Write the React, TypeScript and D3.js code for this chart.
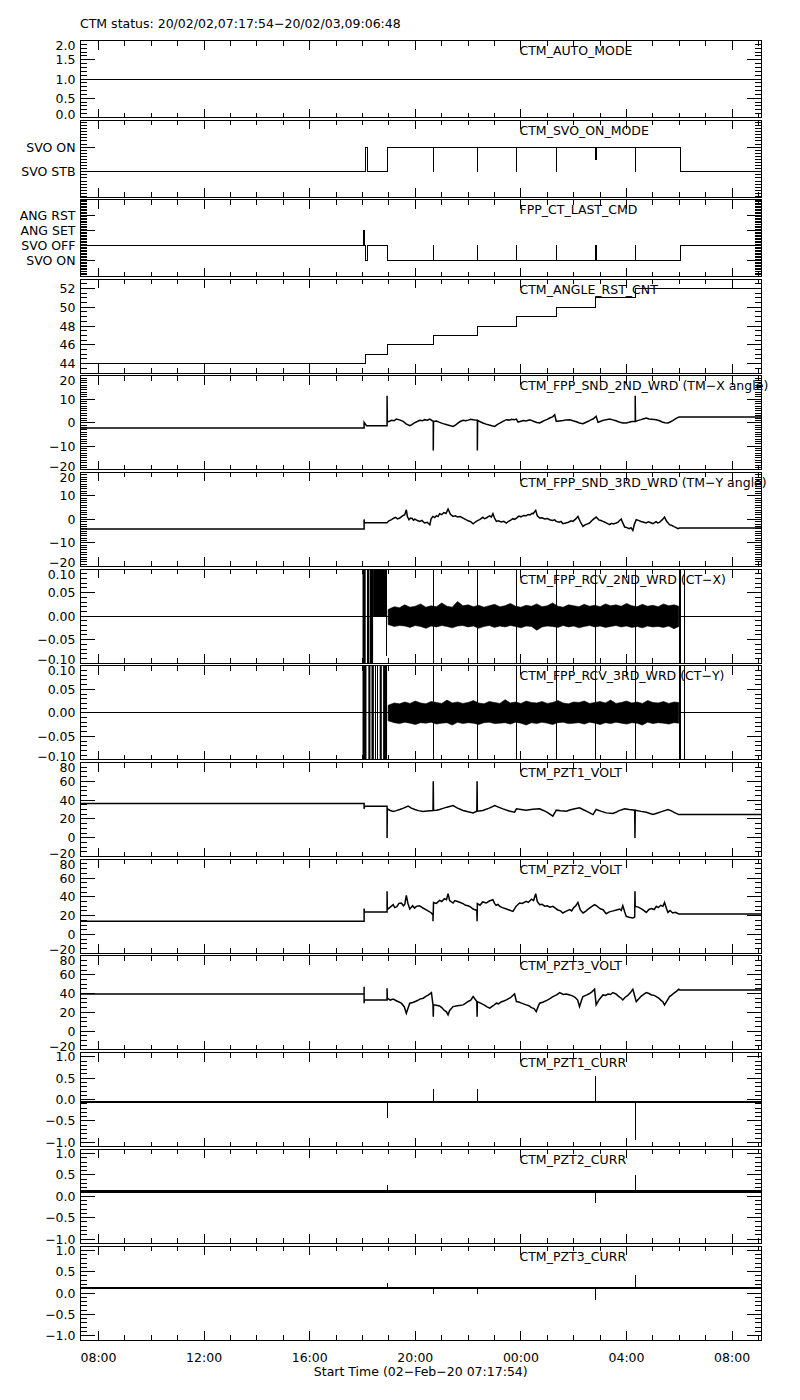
import React from "react";
import * as d3 from "d3";

type Pt = [number, number];
type Burst = [number, number, number, number]; // t0, t1, hi, lo
type Spike = [number, number, number]; // t, lo, hi

// ---------- time axis (hours since 2020-02-02 00:00) ----------
const T0 = 7 + 17 / 60 + 54 / 3600; // 07:17:54
const T1 = 33 + 6 / 60 + 48 / 3600; // next day 09:06:48

const TITLE = "CTM status: 20/02/02,07:17:54\u221220/02/03,09:06:48";
const X_TITLE = "Start Time (02\u2212Feb\u221220 07:17:54)";
const xTickHours = [8, 12, 16, 20, 24, 28, 32];
const xTickLabels = ["08:00", "12:00", "16:00", "20:00", "00:00", "04:00", "08:00"];

// ---------- panels ----------
const panelNames = [
  "CTM_AUTO_MODE",
  "CTM_SVO_ON_MODE",
  "FPP_CT_LAST_CMD",
  "CTM_ANGLE_RST_CNT",
  "CTM_FPP_SND_2ND_WRD (TM\u2212X angle)",
  "CTM_FPP_SND_3RD_WRD (TM\u2212Y angle)",
  "CTM_FPP_RCV_2ND_WRD (CT\u2212X)",
  "CTM_FPP_RCV_3RD_WRD (CT\u2212Y)",
  "CTM_PZT1_VOLT",
  "CTM_PZT2_VOLT",
  "CTM_PZT3_VOLT",
  "CTM_PZT1_CURR",
  "CTM_PZT2_CURR",
  "CTM_PZT3_CURR",
];

const panelDomains: [number, number][] = [
  [0, 2],
  [-1.02, 2.1],
  [-1.03, 4.05],
  [43, 53],
  [-20, 20],
  [-20, 20],
  [-0.1, 0.1],
  [-0.1, 0.1],
  [-20, 80],
  [-20, 80],
  [-20, 80],
  [-1.1, 1.1],
  [-1.1, 1.1],
  [-1.1, 1.1],
];

const panelTickValues: number[][] = [
  [2, 1.5, 1, 0.5, 0],
  [1, 0],
  [3, 2, 1, 0],
  [52, 50, 48, 46, 44],
  [20, 10, 0, -10, -20],
  [20, 10, 0, -10, -20],
  [0.1, 0.05, 0, -0.05, -0.1],
  [0.1, 0.05, 0, -0.05, -0.1],
  [80, 60, 40, 20, 0, -20],
  [80, 60, 40, 20, 0, -20],
  [80, 60, 40, 20, 0, -20],
  [1, 0.5, 0, -0.5, -1],
  [1, 0.5, 0, -0.5, -1],
  [1, 0.5, 0, -0.5, -1],
];

const panelTickLabels: string[][] = [
  ["2.0", "1.5", "1.0", "0.5", "0.0"],
  ["SVO ON", "SVO STB"],
  ["ANG RST", "ANG SET", "SVO OFF", "SVO ON"],
  ["52", "50", "48", "46", "44"],
  ["20", "10", "0", "\u221210", "\u221220"],
  ["20", "10", "0", "\u221210", "\u221220"],
  ["0.10", "0.05", "0.00", "\u22120.05", "\u22120.10"],
  ["0.10", "0.05", "0.00", "\u22120.05", "\u22120.10"],
  ["80", "60", "40", "20", "0", "\u221220"],
  ["80", "60", "40", "20", "0", "\u221220"],
  ["80", "60", "40", "20", "0", "\u221220"],
  ["1.0", "0.5", "0.0", "\u22120.5", "\u22121.0"],
  ["1.0", "0.5", "0.0", "\u22120.5", "\u22121.0"],
  ["1.0", "0.5", "0.0", "\u22120.5", "\u22121.0"],
];

const panelMinorSteps = [0.1, 0.125, 0.1, 0.5, 1, 1, 0.01, 0.01, 5, 5, 5, 0.1, 0.1, 0.1];

// ---------- series ----------
const autoMode: Pt[] = [[T0, 1], [T1, 1]];

const svoOnMode: Pt[] = [
  [T0, 0], [18.1, 1], [18.18, 0], [18.93, 1], [20.68, 0], [20.69, 1], [22.35, 0], [22.36, 1],
  [23.84, 0], [23.85, 1], [25.33, 0], [25.34, 1], [26.82, 0.5], [26.85, 1], [28.33, 0], [28.34, 1],
  [30.03, 0], [T1, 0],
];

const lastCmd: Pt[] = [
  [T0, 1], [18.03, 2], [18.09, 1], [18.1, 0], [18.18, 1], [18.93, 0], [20.68, 1], [20.69, 0],
  [22.35, 1], [22.36, 0], [23.84, 1], [23.85, 0], [25.33, 1], [25.34, 0], [26.82, 1], [26.85, 0],
  [28.33, 1], [28.34, 0], [30.03, 1], [T1, 1],
];

const angleRstCnt: Pt[] = [
  [T0, 44], [18.11, 45], [18.93, 46], [20.68, 47], [22.35, 48], [23.84, 49], [25.33, 50],
  [26.82, 51], [28.33, 52], [T1, 52],
];

const sndX: Pt[] = [
  [T0, -2.27], [18.06, -2.27], [18.06, 0.14], [18.15, -1.28], [18.93, -1.28], [18.93, 11.5], [18.94, 0.28],
  [19.02, 0.6], [19.1, 1.0], [19.2, 0.8], [19.28, 1.56], [19.4, 1.2], [19.47, 0.9], [19.54, 0.57],
  [19.65, -0.5], [19.79, -1.28], [19.87, -0.8], [19.95, -0.2], [20.05, 0.4], [20.17, 0.99], [20.27, 0.8],
  [20.35, 1.3], [20.45, 1.1], [20.55, 1.56], [20.68, 0.57], [20.68, -11.8], [20.69, 0.57], [20.8, 0.7],
  [20.92, 0.14], [21.05, -0.4], [21.2, -0.9], [21.3, -1.2], [21.43, -1.56], [21.52, -1.0], [21.6, -0.3],
  [21.7, 0.5], [21.81, 0.99], [21.9, 0.8], [22.0, 1.1], [22.1, 1.5], [22.19, 1.28], [22.35, 0.99],
  [22.35, -11.8], [22.36, 0.99], [22.46, 0.4], [22.56, -0.14], [22.68, -0.6], [22.8, -1.0], [22.9, -1.3],
  [23.01, -1.56], [23.1, -0.8], [23.2, -0.2], [23.32, 0.6], [23.45, 1.28], [23.55, 1.1], [23.65, 1.5],
  [23.75, 1.3], [23.83, 1.56], [23.89, 0.28], [24.0, 0.6], [24.1, 0.9], [24.2, 0.7], [24.33, 1.28],
  [24.42, 0.9], [24.5, 0.5], [24.6, 0.1], [24.71, -0.14], [24.8, 0.4], [24.9, 1.0], [25.0, 1.4],
  [25.09, 1.99], [25.2, 2.5], [25.28, 3.4], [25.34, 0.57], [25.45, 0.7], [25.6, 0.9], [25.72, 1.2],
  [25.85, 1.28], [25.97, 0.8], [26.1, 0.4], [26.22, -0.1], [26.35, -0.43], [26.45, 0.1], [26.55, 0.6],
  [26.65, 1.2], [26.73, 1.56], [26.85, 2.7], [26.92, 0.14], [27.0, 0.5], [27.1, 0.9], [27.23, 1.3],
  [27.36, 1.56], [27.48, 1.2], [27.6, 0.8], [27.72, 0.3], [27.86, -0.14], [27.98, -0.1], [28.1, 0.2],
  [28.2, 0.5], [28.33, 0.57], [28.33, 11.5], [28.34, 0.57], [28.45, 1.0], [28.55, 1.3], [28.65, 1.7],
  [28.75, 1.99], [28.85, 1.6], [28.95, 1.5], [29.05, 1.4], [29.13, 1.28], [29.25, 0.8], [29.35, 0.3],
  [29.45, 0.0], [29.57, -0.14], [29.65, 0.3], [29.75, 0.9], [29.85, 1.6], [29.95, 2.27], [30.0, 2.41],
  [T1, 2.41],
];

const sndY: Pt[] = [
  [T0, -4.1], [18.06, -4.1], [18.06, 0.0], [18.07, -1.44], [18.93, -1.44], [19.0, -0.6], [19.1, -0.13],
  [19.18, 0.5], [19.25, 0.9], [19.33, 0.2], [19.41, 0.58], [19.5, 1.4], [19.6, 1.98], [19.66, 4.1],
  [19.7, 1.2], [19.76, -0.13], [19.82, 0.6], [19.88, 0.4], [19.93, -0.3], [19.98, 0.14], [20.08, -0.5],
  [20.17, -0.84], [20.25, -0.4], [20.35, -1.5], [20.45, -1.2], [20.55, -2.26], [20.6, 0.3],
  [20.67, 1.28], [20.74, 0.8], [20.8, 1.6], [20.86, 1.2], [20.92, 2.41], [21.0, 2.0], [21.08, 2.9],
  [21.16, 2.5], [21.24, 4.4], [21.33, 2.2], [21.43, 1.28], [21.52, 1.5], [21.6, 1.0], [21.7, 1.2],
  [21.81, 0.58], [21.9, 0.0], [22.0, -0.6], [22.1, -1.0], [22.19, -1.84], [22.3, -0.9], [22.37, -0.4],
  [22.44, -0.13], [22.5, 0.4], [22.56, 0.9], [22.62, 0.3], [22.69, 0.58], [22.76, 1.2], [22.82, 1.5],
  [22.88, 1.0], [22.94, 2.41], [23.0, 0.6], [23.07, -0.84], [23.15, -0.6], [23.25, -1.1],
  [23.35, -0.8], [23.45, -1.55], [23.52, -0.9], [23.6, -0.4], [23.7, 0.3], [23.76, 0.0], [23.83, 0.58],
  [23.92, 1.4], [24.0, 1.1], [24.1, 1.7], [24.2, 1.56], [24.28, 2.1], [24.35, 1.9], [24.42, 2.6],
  [24.46, 2.41], [24.56, 3.83], [24.62, 1.5], [24.71, 0.58], [24.8, 0.7], [24.9, 0.2], [25.0, 0.4],
  [25.09, -0.13], [25.2, -0.5], [25.28, -0.2], [25.34, -0.84], [25.45, -1.2], [25.52, -0.9],
  [25.59, -1.84], [25.7, -1.5], [25.8, -1.2], [25.9, -0.6], [25.97, -0.84], [26.08, 0.2], [26.16, 1.28],
  [26.25, -1.0], [26.35, -2.97], [26.43, -2.3], [26.5, -2.0], [26.6, -1.55], [26.68, -0.6], [26.75, 0.1],
  [26.85, 1.0], [26.95, -0.2], [27.03, -0.5], [27.11, -0.84], [27.18, -1.2], [27.25, -1.6],
  [27.36, -2.26], [27.43, -1.7], [27.5, -1.9], [27.61, -1.55], [27.68, -1.2], [27.72, -0.7],
  [27.8, 0.14], [27.86, -1.5], [27.93, -3.26], [28.0, -3.4], [28.1, -3.9], [28.17, -3.5],
  [28.24, -4.68], [28.3, -2.0], [28.37, -0.13], [28.45, -0.4], [28.55, -0.9], [28.65, -1.2],
  [28.75, -1.55], [28.82, -1.0], [28.9, -1.3], [29.0, -1.84], [29.06, -1.4], [29.12, -1.0],
  [29.18, -1.5], [29.25, -1.27], [29.3, -0.7], [29.35, -0.2], [29.44, 1.0], [29.52, -0.8],
  [29.63, -2.26], [29.72, -2.6], [29.8, -3.1], [29.88, -3.5], [29.95, -3.97], [30.01, -3.7], [T1, -3.7],
];

// CT-X / CT-Y noise band envelope (max / min read at sample times)
const bandTimes = [
  18.97, 19.2, 19.4, 19.6, 19.8, 20.0, 20.2, 20.4, 20.6, 20.8, 21.0, 21.2, 21.4, 21.6, 21.8, 22.0,
  22.2, 22.4, 22.6, 22.8, 23.0, 23.2, 23.4, 23.6, 23.8, 24.0, 24.2, 24.4, 24.6, 24.8, 25.0, 25.2,
  25.4, 25.6, 25.8, 26.0, 26.2, 26.4, 26.6, 26.8, 27.0, 27.2, 27.4, 27.6, 27.8, 28.0, 28.2, 28.4,
  28.6, 28.8, 29.0, 29.2, 29.4, 29.6, 29.8, 29.98,
];
const ctxHi = [
  0.014, 0.02, 0.018, 0.024, 0.019, 0.021, 0.026, 0.019, 0.022, 0.02,
  0.028, 0.021, 0.019, 0.031, 0.022, 0.024, 0.02, 0.023, 0.019, 0.022,
  0.025, 0.02, 0.022, 0.027, 0.021, 0.019, 0.023, 0.021, 0.026, 0.02,
  0.022, 0.028, 0.021, 0.019, 0.024, 0.022, 0.02, 0.025, 0.021, 0.023,
  0.02, 0.026, 0.022, 0.024, 0.021, 0.027, 0.022, 0.02, 0.025, 0.021,
  0.023, 0.02, 0.026, 0.022, 0.024, 0.021,
];
const ctxLo = [
  -0.018, -0.022, -0.02, -0.021, -0.024, -0.02, -0.022, -0.026, -0.021, -0.023,
  -0.02, -0.022, -0.025, -0.021, -0.02, -0.023, -0.021, -0.026, -0.022, -0.02,
  -0.024, -0.021, -0.023, -0.02, -0.022, -0.025, -0.021, -0.022, -0.03, -0.023,
  -0.021, -0.022, -0.024, -0.02, -0.023, -0.021, -0.025, -0.022, -0.02, -0.023,
  -0.021, -0.024, -0.022, -0.02, -0.023, -0.021, -0.024, -0.022, -0.025, -0.021,
  -0.023, -0.022, -0.024, -0.021, -0.027, -0.022,
];
const ctyHi = [
  0.016, 0.021, 0.019, 0.023, 0.02, 0.025, 0.021, 0.019, 0.024, 0.022,
  0.02, 0.027, 0.021, 0.023, 0.02, 0.022, 0.026, 0.021, 0.019, 0.024,
  0.022, 0.02, 0.028, 0.021, 0.023, 0.02, 0.025, 0.022, 0.021, 0.024,
  0.02, 0.022, 0.026, 0.021, 0.019, 0.023, 0.022, 0.025, 0.02, 0.022,
  0.024, 0.021, 0.027, 0.02, 0.022, 0.025, 0.021, 0.023, 0.02, 0.026,
  0.022, 0.021, 0.024, 0.02, 0.023, 0.022,
];
const ctyLo = [
  -0.017, -0.021, -0.023, -0.02, -0.022, -0.025, -0.021, -0.022, -0.02, -0.024,
  -0.022, -0.021, -0.026, -0.02, -0.023, -0.021, -0.022, -0.025, -0.021, -0.02,
  -0.023, -0.022, -0.021, -0.024, -0.02, -0.022, -0.026, -0.021, -0.023, -0.02,
  -0.022, -0.025, -0.021, -0.02, -0.023, -0.022, -0.021, -0.024, -0.02, -0.022,
  -0.025, -0.021, -0.023, -0.02, -0.022, -0.024, -0.021, -0.022, -0.026, -0.02,
  -0.023, -0.021, -0.022, -0.024, -0.021, -0.022,
];
const ctZero: Pt[] = [[T0, 0], [T1, 0]];
const ctxBursts: Burst[] = [
  [18.0, 18.12, 0.2, -0.2], [18.17, 18.25, 0.2, -0.2], [18.27, 18.4, 0.2, -0.2], [18.4, 18.9, 0.2, 0],
];
const ctyBursts: Burst[] = [
  [18.0, 18.15, 0.2, -0.2], [18.22, 18.3, 0.2, -0.2], [18.34, 18.43, 0.2, -0.2],
  [18.65, 18.73, 0.2, -0.2], [18.78, 18.93, 0.2, -0.2],
];
const ctxSpikes: Spike[] = [
  [18.905, -0.085, 0.2], [20.68, -0.2, 0.2], [22.35, -0.2, 0.2], [23.84, -0.2, 0.2], [25.33, -0.2, 0.2],
  [26.82, -0.2, 0.2], [28.33, -0.2, 0.2], [30.0, -0.2, 0.2], [30.03, -0.2, 0.2], [30.2, -0.2, 0.2],
];
const ctySpikes: Spike[] = [
  [18.5, -0.2, 0.2], [18.57, -0.2, 0.2], [20.68, -0.2, 0.2], [22.35, -0.2, 0.2], [23.84, -0.2, 0.2],
  [25.33, -0.2, 0.2], [26.82, -0.2, 0.2], [28.33, -0.2, 0.2], [30.0, -0.2, 0.2], [30.03, -0.2, 0.2],
  [30.2, -0.2, 0.2],
];

const pzt1Volt: Pt[] = [
  [T0, 36.4], [18.06, 36.4], [18.06, 30.7], [18.08, 33.5], [18.93, 33.5], [18.93, -0.2], [18.94, 30.7],
  [19.05, 29.0], [19.16, 27.9], [19.28, 28.8], [19.41, 30.0], [19.55, 31.5], [19.73, 33.6], [19.85, 31.5],
  [19.98, 30.0], [20.12, 28.8], [20.29, 27.9], [20.45, 28.5], [20.67, 28.9], [20.68, 60.1], [20.69, 28.9],
  [20.8, 29.2], [20.92, 30.0], [21.05, 31.2], [21.2, 32.5], [21.43, 34.2], [21.6, 31.5], [21.81, 28.9],
  [22.0, 27.5], [22.19, 26.4], [22.33, 28.2], [22.34, 60.1], [22.35, 28.2], [22.56, 28.9], [22.8, 31.5],
  [23.01, 34.2], [23.15, 32.5], [23.32, 30.7], [23.55, 28.5], [23.76, 27.1], [23.83, 30.7], [24.0, 30.0],
  [24.2, 29.3], [24.45, 30.2], [24.71, 30.7], [24.85, 29.0], [25.0, 27.0], [25.21, 22.9], [25.34, 29.3],
  [25.5, 28.7], [25.72, 28.2], [25.85, 29.5], [26.0, 30.5], [26.22, 31.8], [26.35, 30.0], [26.5, 28.0],
  [26.73, 24.6], [26.85, 30.0], [27.05, 28.0], [27.23, 26.4], [27.48, 25.7], [27.6, 27.0], [27.7, 28.5],
  [27.93, 30.7], [28.1, 30.0], [28.31, 29.3], [28.32, -0.2], [28.33, 29.3], [28.55, 28.0], [28.75, 27.1],
  [29.0, 24.6], [29.15, 26.0], [29.3, 27.5], [29.57, 30.0], [29.7, 28.5], [29.8, 27.0], [29.98, 24.6],
  [T1, 24.6],
];

const pzt2Volt: Pt[] = [
  [T0, 13.9], [18.06, 13.9], [18.06, 27.6], [18.07, 23.8], [18.93, 23.8], [18.93, 45.8], [18.94, 26.3],
  [19.05, 29.0], [19.16, 31.6], [19.22, 28.5], [19.3, 29.5], [19.38, 33.0], [19.47, 33.4], [19.55, 30.5],
  [19.6, 32.0], [19.66, 41.5], [19.72, 33.0], [19.79, 27.0], [19.85, 29.0], [19.9, 30.5], [19.97, 28.0],
  [20.04, 29.8], [20.15, 30.5], [20.29, 28.1], [20.45, 25.5], [20.61, 22.8], [20.67, 20.5], [20.67, 13.9],
  [20.69, 34.0], [20.8, 33.0], [20.92, 36.2], [21.0, 35.0], [21.1, 38.0], [21.18, 37.0], [21.24, 43.3],
  [21.3, 36.0], [21.43, 33.4], [21.5, 36.0], [21.6, 35.0], [21.7, 34.0], [21.81, 32.7], [21.9, 31.0],
  [22.0, 30.5], [22.1, 29.0], [22.19, 27.0], [22.33, 25.5], [22.34, 13.9], [22.35, 32.7], [22.45, 31.0],
  [22.55, 34.5], [22.69, 33.4], [22.8, 35.5], [22.94, 36.9], [23.0, 33.0], [23.06, 31.0], [23.13, 31.8],
  [23.2, 29.8], [23.3, 28.5], [23.45, 27.0], [23.55, 26.0], [23.7, 24.5], [23.82, 30.0], [23.88, 31.5],
  [23.95, 33.4], [24.05, 33.0], [24.2, 35.1], [24.28, 34.0], [24.4, 37.5], [24.48, 36.0], [24.56, 43.3],
  [24.62, 35.0], [24.71, 31.6], [24.8, 32.0], [24.9, 30.0], [25.0, 30.5], [25.1, 29.0], [25.21, 29.8],
  [25.3, 28.0], [25.4, 26.0], [25.5, 25.0], [25.59, 22.8], [25.7, 24.5], [25.85, 26.3], [25.92, 25.0],
  [26.0, 28.5], [26.08, 30.5], [26.16, 34.0], [26.25, 26.0], [26.35, 22.8], [26.45, 24.5], [26.55, 27.0],
  [26.65, 29.0], [26.79, 31.6], [26.88, 30.0], [26.95, 28.5], [27.03, 27.0], [27.11, 26.3],
  [27.23, 22.0], [27.35, 24.0], [27.5, 25.0], [27.62, 26.0], [27.74, 27.0], [27.8, 25.5], [27.86, 30.5],
  [27.93, 24.0], [27.99, 19.2], [28.1, 18.2], [28.24, 17.4], [28.31, 18.5], [28.32, 45.8], [28.33, 29.8],
  [28.45, 29.0], [28.55, 27.5], [28.65, 25.5], [28.75, 23.4], [28.85, 26.5], [28.95, 27.5], [29.05, 26.5],
  [29.13, 29.8], [29.2, 28.5], [29.3, 31.0], [29.38, 30.0], [29.44, 34.0], [29.52, 27.0], [29.57, 23.4],
  [29.65, 25.5], [29.75, 22.8], [29.85, 23.5], [29.98, 21.7], [T1, 21.7],
];

const pzt3Volt: Pt[] = [
  [T0, 39.6], [18.06, 39.6], [18.06, 47.3], [18.06, 29.7], [18.07, 33.2], [18.93, 33.2], [18.93, 45.6],
  [18.94, 35.0], [19.05, 33.0], [19.16, 34.0], [19.3, 32.0], [19.47, 29.7], [19.58, 26.0], [19.66, 19.0],
  [19.72, 24.0], [19.79, 29.7], [19.9, 30.5], [20.0, 31.5], [20.08, 32.5], [20.17, 34.0], [20.3, 35.0],
  [20.4, 37.0], [20.5, 38.5], [20.61, 41.0], [20.67, 27.9], [20.68, 15.4], [20.69, 27.9], [20.8, 27.5],
  [20.92, 26.8], [21.0, 25.0], [21.1, 22.0], [21.18, 20.5], [21.24, 17.2], [21.3, 22.0], [21.43, 26.1],
  [21.6, 27.0], [21.81, 27.9], [21.9, 29.5], [22.0, 31.5], [22.1, 33.0], [22.19, 36.7], [22.33, 31.4],
  [22.34, 15.4], [22.35, 31.4], [22.45, 30.0], [22.6, 28.0], [22.7, 26.0], [22.82, 24.4], [22.95, 27.0],
  [23.07, 29.7], [23.15, 29.0], [23.25, 31.0], [23.35, 32.0], [23.45, 33.2], [23.6, 35.5], [23.76, 39.6],
  [23.83, 31.4], [23.92, 31.0], [24.0, 30.0], [24.1, 29.0], [24.2, 27.9], [24.3, 27.0], [24.4, 25.0],
  [24.5, 24.0], [24.58, 20.7], [24.65, 26.0], [24.71, 29.7], [24.85, 31.0], [25.0, 33.0], [25.1, 34.5],
  [25.21, 36.7], [25.35, 38.5], [25.47, 41.0], [25.6, 39.0], [25.72, 39.5], [25.85, 38.5], [25.95, 37.5],
  [26.05, 36.0], [26.15, 33.0], [26.22, 26.1], [26.3, 33.0], [26.35, 36.7], [26.5, 38.5], [26.6, 40.0],
  [26.7, 42.0], [26.79, 44.6], [26.85, 27.9], [26.95, 33.0], [27.11, 38.5], [27.2, 38.0], [27.3, 39.5],
  [27.4, 39.0], [27.48, 41.0], [27.6, 39.5], [27.7, 37.0], [27.8, 35.0], [27.86, 33.2], [27.95, 36.0],
  [28.05, 38.0], [28.15, 41.0], [28.24, 44.6], [28.37, 31.4], [28.45, 34.0], [28.55, 37.0], [28.65, 39.0],
  [28.75, 41.0], [28.85, 40.0], [28.95, 38.5], [29.05, 38.0], [29.13, 36.7], [29.22, 35.0], [29.3, 33.0],
  [29.38, 31.0], [29.44, 27.9], [29.55, 33.0], [29.63, 36.7], [29.72, 38.5], [29.8, 40.5], [29.9, 42.5],
  [29.98, 44.6], [30.02, 43.8], [T1, 43.8],
];

const pzt1Curr: Pt[] = [[T0, -0.05], [T1, -0.05]];
const pzt2Curr: Pt[] = [[T0, 0.11], [T1, 0.11]];
const pzt3Curr: Pt[] = [[T0, 0.12], [T1, 0.12]];
const pzt1CurrSpikes: Spike[] = [
  [18.93, -0.42, -0.05], [20.68, -0.05, 0.25], [22.35, -0.05, 0.25], [26.82, -0.05, 0.55], [28.33, -0.95, -0.05],
];
const pzt2CurrSpikes: Spike[] = [[18.93, 0.11, 0.26], [26.82, -0.15, 0.11], [28.33, 0.11, 0.5]];
const pzt3CurrSpikes: Spike[] = [
  [18.93, 0.12, 0.24], [20.68, -0.03, 0.12], [22.35, -0.03, 0.12], [26.82, -0.16, 0.12], [28.33, 0.12, 0.42],
];

interface PanelSeries {
  line: Pt[];
  step?: boolean;
  width?: number;
  bandHi?: number[];
  bandLo?: number[];
  bursts?: Burst[];
  spikes?: Spike[];
}

const panelSeries: PanelSeries[] = [
  { line: autoMode, step: true },
  { line: svoOnMode, step: true },
  { line: lastCmd, step: true },
  { line: angleRstCnt, step: true },
  { line: sndX, width: 1.5 },
  { line: sndY, width: 1.5 },
  { line: ctZero, bandHi: ctxHi, bandLo: ctxLo, bursts: ctxBursts, spikes: ctxSpikes },
  { line: ctZero, bandHi: ctyHi, bandLo: ctyLo, bursts: ctyBursts, spikes: ctySpikes },
  { line: pzt1Volt, width: 1.5 },
  { line: pzt2Volt, width: 1.5 },
  { line: pzt3Volt, width: 1.5 },
  { line: pzt1Curr, width: 2, spikes: pzt1CurrSpikes },
  { line: pzt2Curr, width: 3.5, spikes: pzt2CurrSpikes },
  { line: pzt3Curr, width: 2, spikes: pzt3CurrSpikes },
];

// ---------- layout ----------
const LEFT = 80;
const RIGHT = 761.5;
const TOP = 40.5;
const SMALL_H = 77;
const SMALL_GAP = 2.5;
const BIG_H = 94;
const BIG_GAP = 2.7;
const FONT = "'DejaVu Sans', 'Liberation Sans', sans-serif";
const FS = 12.5;

function panelBox(i: number): [number, number] {
  if (i < 3) return [TOP + i * (SMALL_H + SMALL_GAP), SMALL_H];
  return [TOP + 3 * (SMALL_H + SMALL_GAP) + (i - 3) * (BIG_H + BIG_GAP), BIG_H];
}

export default function App() {
  const x = d3.scaleLinear().domain([T0, T1]).range([LEFT, RIGHT]);
  const hourTicks = d3.range(Math.ceil(T0), Math.floor(T1) + 1);

  const panels = panelNames.map((name, i) => {
    const [top, h] = panelBox(i);
    const bottom = top + h;
    const dom = panelDomains[i];
    const y = d3.scaleLinear().domain(dom).range([bottom, top]);
    const s = panelSeries[i];
    const lineGen = d3
      .line<Pt>()
      .x((d) => x(d[0]))
      .y((d) => y(d[1]))
      .curve(s.step ? d3.curveStepAfter : d3.curveLinear);
    const majors = panelTickValues[i];
    const step = panelMinorSteps[i];
    const minors: number[] = [];
    for (let v = Math.ceil(dom[0] / step - 1e-6) * step; v <= dom[1] + 1e-9; v += step) {
      if (!majors.some((m) => Math.abs(m - v) < step * 0.3)) minors.push(v);
    }
    let bandPath: string | null = null;
    if (s.bandHi && s.bandLo) {
      const idx = bandTimes.map((_, k) => k);
      const area = d3
        .area<number>()
        .x((k) => x(bandTimes[k]))
        .y0((k) => y(s.bandLo![k]))
        .y1((k) => y(s.bandHi![k]));
      bandPath = area(idx);
    }
    const clipId = `clip${i}`;
    return (
      <g key={name}>
        <defs>
          <clipPath id={clipId}>
            <rect x={LEFT} y={top} width={RIGHT - LEFT} height={h} />
          </clipPath>
        </defs>
        <g clipPath={`url(#${clipId})`}>
          {s.bursts &&
            s.bursts.map((b, k) => (
              <rect
                key={`b${k}`}
                x={x(b[0])}
                width={Math.max(1, x(b[1]) - x(b[0]))}
                y={y(b[2])}
                height={y(b[3]) - y(b[2])}
                fill="#000"
              />
            ))}
          {bandPath && <path d={bandPath} fill="#000" stroke="#000" strokeWidth={0.6} />}
          <path
            d={lineGen(s.line) || ""}
            fill="none"
            stroke="#000"
            strokeWidth={s.width ?? 1}
            strokeLinejoin="miter"
            shapeRendering={s.step || !s.width || s.width >= 2 ? "crispEdges" : "auto"}
          />
          {s.spikes &&
            s.spikes.map((sp, k) => (
              <line
                key={`s${k}`}
                x1={x(sp[0])}
                x2={x(sp[0])}
                y1={y(sp[1])}
                y2={y(sp[2])}
                stroke="#000"
                strokeWidth={1}
                shapeRendering="crispEdges"
              />
            ))}
        </g>
        {/* frame */}
        <rect
          x={LEFT}
          y={top}
          width={RIGHT - LEFT}
          height={h}
          fill="none"
          stroke="#000"
          strokeWidth={1}
          shapeRendering="crispEdges"
        />
        {/* x ticks top & bottom */}
        {hourTicks.map((t) => {
          const len = t % 4 === 0 ? 9 : 5;
          const xx = x(t);
          return (
            <g key={`xt${t}`} shapeRendering="crispEdges" stroke="#000">
              <line x1={xx} x2={xx} y1={top} y2={top + len} />
              <line x1={xx} x2={xx} y1={bottom} y2={bottom - len} />
            </g>
          );
        })}
        {/* y ticks */}
        {minors.map((v, k) => (
          <g key={`ym${k}`} shapeRendering="crispEdges" stroke="#000">
            <line x1={LEFT} x2={LEFT + 7} y1={y(v)} y2={y(v)} />
            <line x1={RIGHT} x2={RIGHT - 7} y1={y(v)} y2={y(v)} />
          </g>
        ))}
        {majors.map((v, k) => (
          <g key={`yM${k}`} shapeRendering="crispEdges" stroke="#000">
            <line x1={LEFT} x2={LEFT + 15} y1={y(v)} y2={y(v)} />
            <line x1={RIGHT} x2={RIGHT - 15} y1={y(v)} y2={y(v)} />
          </g>
        ))}
        {majors.map((v, k) => {
          const yy = y(v);
          let base = yy + 4.5;
          if (Math.abs(yy - top) < 1.5) base += 5;
          if (Math.abs(yy - bottom) < 1.5) base -= 3.5;
          return (
            <text
              key={`yl${k}`}
              x={LEFT - 4.5}
              y={base}
              textAnchor="end"
              fontFamily={FONT}
              fontSize={FS}
              fill="#000"
            >
              {panelTickLabels[i][k]}
            </text>
          );
        })}
        <text x={519.5} y={top + 14.5} fontFamily={FONT} fontSize={FS} fill="#000">
          {name}
        </text>
        {i === panelNames.length - 1 &&
          xTickHours.map((t, k) => (
            <text
              key={`xl${k}`}
              x={x(t)}
              y={bottom + 22}
              textAnchor="middle"
              fontFamily={FONT}
              fontSize={FS}
              fill="#000"
            >
              {xTickLabels[k]}
            </text>
          ))}
      </g>
    );
  });

  const [lastTop, lastH] = panelBox(panelNames.length - 1);

  return (
    <svg
      width={800}
      height={1400}
      style={{ position: "absolute", left: 0, top: 0, display: "block", background: "#fff" }}
    >
      <rect x={0} y={0} width={800} height={1400} fill="#fff" />
      <text x={80} y={27.5} fontFamily={FONT} fontSize={FS} fill="#000">
        {TITLE}
      </text>
      {panels}
      <text
        x={(LEFT + RIGHT) / 2}
        y={lastTop + lastH + 36}
        textAnchor="middle"
        fontFamily={FONT}
        fontSize={FS}
        fill="#000"
      >
        {X_TITLE}
      </text>
    </svg>
  );
}
